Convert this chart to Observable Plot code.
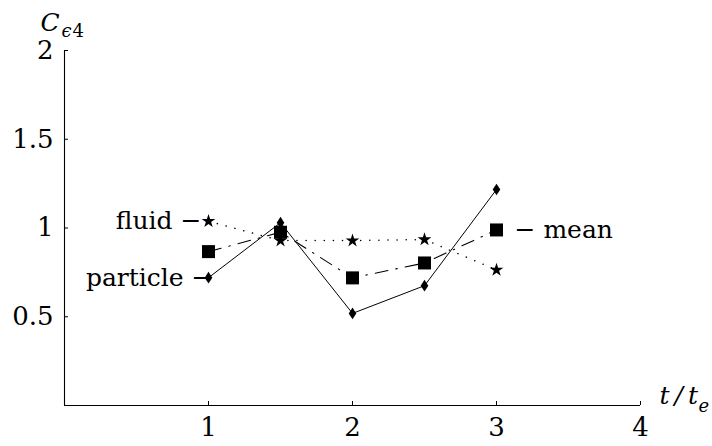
<!DOCTYPE html>
<html>
<head>
<meta charset="utf-8">
<script src="https://cdn.jsdelivr.net/npm/d3@7"></script>
<script src="https://cdn.jsdelivr.net/npm/@observablehq/plot@0.6"></script>
<style>
  html, body { margin: 0; padding: 0; background: #fff; }
</style>
</head>
<body>
<div id="chart"></div>
<script>
const times = [1, 1.5, 2, 2.5, 3];
const particle = [0.72, 1.03, 0.519, 0.675, 1.217];
const fluid = [1.038, 0.929, 0.929, 0.935, 0.764];
const mean = [0.867, 0.976, 0.719, 0.803, 0.989];

const xTicks = [1, 2, 3, 4];
const yTicks = [0.5, 1, 1.5, 2];
const yTickLabels = ["0.5", "1", "1.5", "2"];
const xTickLabels = ["1", "2", "3", "4"];
const labelFluid = "fluid \u2212";
const labelParticle = "particle \u2212";
const labelMean = "\u2212 mean";

const rows = (vals) => times.map((t, i) => ({ t, v: vals[i] }));

const diamondSym = {
  draw(ctx, size) {
    const r = Math.sqrt(size / Math.PI);
    ctx.moveTo(0, -r * 1.3);
    ctx.lineTo(r * 0.85, 0);
    ctx.lineTo(0, r * 1.3);
    ctx.lineTo(-r * 0.85, 0);
    ctx.closePath();
  }
};
const squareSym = {
  draw(ctx, size) {
    const r = Math.sqrt(size / Math.PI);
    ctx.rect(-r, -r, 2 * r, 2 * r);
  }
};

const font = "DejaVu Serif";
const fs = 25;

const chart = Plot.plot({
  width: 712,
  height: 446,
  marginLeft: 64,
  marginRight: 72,
  marginTop: 50,
  marginBottom: 41,
  style: { fontFamily: font, fontSize: fs + "px", background: "#fff", color: "#000" },
  x: { domain: [0, 4], label: null },
  y: { domain: [0, 2], label: null },
  marks: [
    Plot.ruleY([0], { stroke: "#000", strokeWidth: 1.1 }),
    Plot.ruleX([0], { stroke: "#000", strokeWidth: 1.1 }),
    Plot.axisX({ ticks: xTicks, tickSize: -4, tickFormat: () => "", stroke: "#000", label: null }),
    Plot.axisY({ ticks: yTicks, tickSize: -4, tickFormat: () => "", stroke: "#000", label: null }),
    Plot.axisX({ ticks: xTicks, tickSize: 0, tickPadding: 12, tickFormat: (d) => xTickLabels[xTicks.indexOf(d)], fontSize: 26, fontFamily: font, fill: "#000", label: null }),
    Plot.axisY({ ticks: yTicks, tickSize: 0, tickPadding: 11, tickFormat: (d) => yTickLabels[yTicks.indexOf(d)], fontSize: 26, fontFamily: font, fill: "#000", label: null }),

    Plot.line(rows(fluid), { x: "t", y: "v", stroke: "#000", strokeWidth: 1.5, strokeDasharray: "0.1,9", strokeLinecap: "round" }),
    Plot.line(rows(mean), { x: "t", y: "v", stroke: "#000", strokeWidth: 1.1, strokeDasharray: "13,8,1.5,8" }),
    Plot.line(rows(particle), { x: "t", y: "v", stroke: "#000", strokeWidth: 1 }),

    Plot.dot(rows(mean), { x: "t", y: "v", symbol: squareSym, r: 6.5, fill: "#000", stroke: "none" }),
    Plot.dot(rows(fluid), { x: "t", y: "v", symbol: "star", r: 4.3, fill: "#000", stroke: "none" }),
    Plot.dot(rows(particle), { x: "t", y: "v", symbol: diamondSym, r: 4.5, fill: "#000", stroke: "none" }),

    Plot.text([{ t: times[0], v: fluid[0], s: labelFluid }], { x: "t", y: "v", text: "s", textAnchor: "end", dx: -7, fontSize: fs, fontFamily: font, fill: "#000" }),
    Plot.text([{ t: times[0], v: particle[0], s: labelParticle }], { x: "t", y: "v", text: "s", textAnchor: "end", dx: 4, fontSize: fs, fontFamily: font, fill: "#000" }),
    Plot.text([{ t: times[4], v: mean[4], s: labelMean }], { x: "t", y: "v", text: "s", textAnchor: "start", dx: 18, fontSize: fs, fontFamily: font, fill: "#000" }),

    Plot.text(["C"], { frameAnchor: "top-left", text: (d) => d, textAnchor: "start", dx: -24, dy: -37, fontSize: 25, fontFamily: font, fontStyle: "italic", fill: "#000" }),
    Plot.text(["\u03f5"], { frameAnchor: "top-left", text: (d) => d, textAnchor: "start", dx: -3, dy: -26, fontSize: 18, fontFamily: font, fontStyle: "italic", fill: "#000" }),
    Plot.text(["4"], { frameAnchor: "top-left", text: (d) => d, textAnchor: "start", dx: 8, dy: -26, fontSize: 18, fontFamily: font, fill: "#000" }),

    Plot.text(["t\u2009/\u2009t"], { frameAnchor: "bottom-right", text: (d) => d, textAnchor: "start", dx: 19, dy: -2, fontSize: 25, fontFamily: font, fontStyle: "italic", fill: "#000" }),
    Plot.text(["e"], { frameAnchor: "bottom-right", text: (d) => d, textAnchor: "start", dx: 58, dy: 6, fontSize: 18, fontFamily: font, fontStyle: "italic", fill: "#000" })
  ]
});

document.getElementById("chart").appendChild(chart);
</script>
</body>
</html>
